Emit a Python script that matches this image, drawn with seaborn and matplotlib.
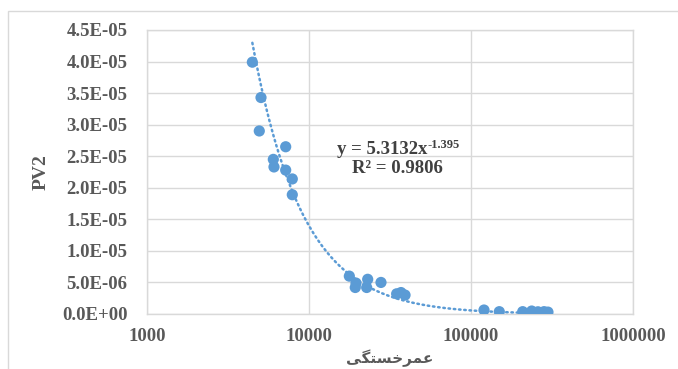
import numpy as np
import pandas as pd
import matplotlib
matplotlib.use('Agg')
import matplotlib.pyplot as plt
import seaborn as sns
from matplotlib.patches import Rectangle

# 数据
fatigue_life = [4470, 5055, 4933, 7180, 6022, 6080, 7180, 7886, 7886,
                17740, 19500, 19300, 23030, 22700, 27820, 34760, 36980, 39160,
                120300, 149500, 208500, 237000, 259000, 282400, 298600]
pv2 = [3.99e-5, 3.43e-5, 2.90e-5, 2.65e-5, 2.45e-5, 2.33e-5, 2.28e-5, 2.14e-5, 1.89e-5,
       6.0e-6, 4.9e-6, 4.2e-6, 5.5e-6, 4.2e-6, 5.0e-6, 3.2e-6, 3.4e-6, 3.0e-6,
       6.3e-7, 3.7e-7, 3.7e-7, 4.7e-7, 3.5e-7, 3.7e-7, 3.0e-7]
# 趋势线系数 y = a * x^b
coef_a = 5.3132
coef_b = -1.395
r2 = 0.9806

x_ticks = [1000, 10000, 100000, 1000000]
y_ticks = np.arange(0, 4.51e-5, 5e-6)

# 'عمرخستگی' 手动连写并按显示顺序排列
xlabel_text = '\uFBFD\uFB95\uFE98\uFEB4\uFEA7\uFEAE\uFEE4\uFECB'

df = pd.DataFrame({'life': fatigue_life, 'pv2': pv2})
trend_x = np.geomspace(min(fatigue_life), max(fatigue_life), 200)
trend = pd.DataFrame({'life': trend_x, 'pv2': coef_a * trend_x ** coef_b})

sns.set_style('white')
plt.rcParams['font.family'] = ['Liberation Serif', 'DejaVu Serif']

fig = plt.figure(figsize=(6.78, 3.69), dpi=100)
ax = fig.add_axes([147/678, 1-314/369, (633-147)/678, (314-30)/369])

# 外框
fig.patches.append(Rectangle((8/678, -0.1), 1.2, 1.1 - 11/369, transform=fig.transFigure,
                             fill=False, edgecolor='#D9D9D9', linewidth=1.0))

blue = '#5B9BD5'
sns.lineplot(data=trend, x='life', y='pv2', ax=ax, color=blue, linewidth=1.8,
             linestyle=(0, (0.6, 1.5)), dash_capstyle='round', zorder=2)
sns.scatterplot(data=df, x='life', y='pv2', ax=ax, color=blue, s=65,
                edgecolor='none', zorder=3)

ax.set_xscale('log')
ax.set_xlim(1000, 1000000)
ax.set_ylim(0, 4.5e-5)
ax.set_xticks(x_ticks)
ax.set_xticklabels([str(v) for v in x_ticks])
ax.xaxis.set_minor_locator(matplotlib.ticker.NullLocator())
ax.set_yticks(y_ticks)
ax.set_yticklabels([f'{v:.1E}' for v in y_ticks])

ax.grid(True, color='#D9D9D9', linewidth=1.0)
ax.set_axisbelow(True)
for s in ax.spines.values():
    s.set_color('#D9D9D9')
    s.set_linewidth(1.0)

ax.tick_params(axis='both', length=0, labelsize=13.5, labelcolor='#595959')
ax.tick_params(axis='y', pad=14)
ax.tick_params(axis='x', pad=10)
for lab in ax.get_xticklabels() + ax.get_yticklabels():
    lab.set_fontweight('bold')

ax.set_ylabel('PV2', fontsize=14, fontweight='bold', color='#595959', labelpad=9)
ax.set_xlabel('')
fig.text(390/678, 1-358/369, xlabel_text, ha='center', va='center', fontsize=11,
         fontweight='bold', color='#595959', family=['DejaVu Sans'])

# 趋势线公式
fig.text(427/678, 1-154/369, 'y = 5.3132x', ha='right', va='baseline',
         fontsize=13.5, fontweight='bold', color='#404040')
fig.text(427/678, 1-148/369, f'{coef_b}', ha='left', va='baseline',
         fontsize=9, fontweight='bold', color='#404040')
fig.text(397/678, 1-173/369, f'R² = {r2}', ha='center', va='baseline',
         fontsize=13.5, fontweight='bold', color='#404040')

fig.savefig('out.png', dpi=100)
